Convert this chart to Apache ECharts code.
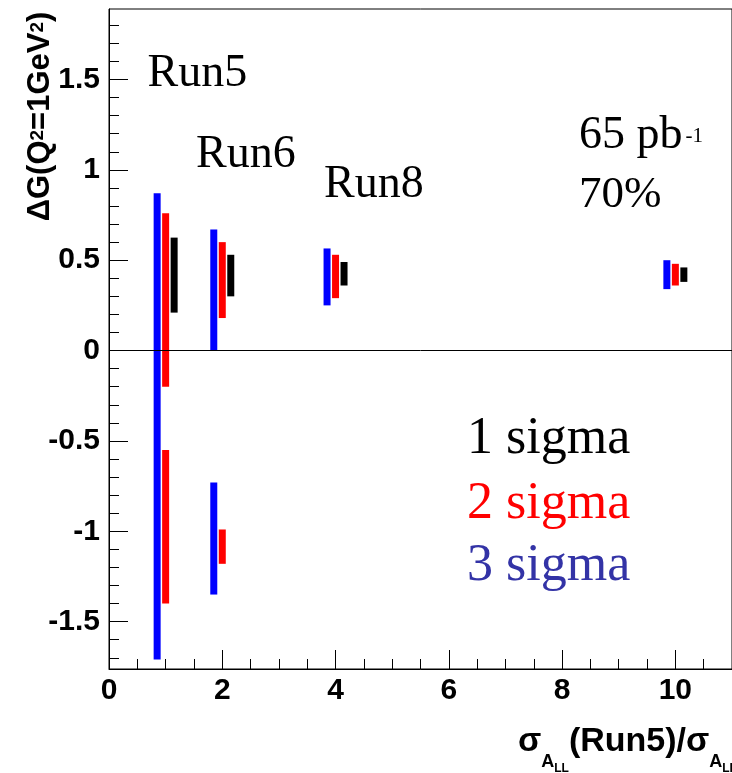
<!DOCTYPE html>
<html>
<head>
<meta charset="utf-8">
<script src="https://cdn.jsdelivr.net/npm/echarts@6/dist/echarts.min.js"></script>
<style>
html,body{margin:0;padding:0;background:#fff;}
#chart{width:732px;height:773px;}
</style>
</head>
<body>
<div id="chart"></div>
<script>
// x position, lower edge, upper edge of each allowed ΔG interval
const sigma3Blue = [[0.85, -1.71, 0.87], [1.85, 0.0, 0.67], [1.85, -1.35, -0.73], [3.85, 0.25, 0.565], [9.85, 0.34, 0.50]];
const sigma2Red = [[1.0, -0.20, 0.76], [1.0, -1.40, -0.55], [2.0, 0.18, 0.60], [2.0, -1.18, -0.99], [4.0, 0.29, 0.53], [10.0, 0.36, 0.48]];
const sigma1Black = [[1.15, 0.21, 0.625], [2.15, 0.30, 0.53], [4.15, 0.36, 0.49], [10.15, 0.38, 0.46]];
const xRange = [0, 11];
const yRange = [-1.762, 1.89];
const yMajorTicks = [-1.5, -1, -0.5, 0, 0.5, 1, 1.5];
const yMinorTicks = [-1.7, -1.6, -1.4, -1.3, -1.2, -1.1, -0.9, -0.8, -0.7, -0.6, -0.4, -0.3, -0.2, -0.1,
                     0.1, 0.2, 0.3, 0.4, 0.6, 0.7, 0.8, 0.9, 1.1, 1.2, 1.3, 1.4, 1.6, 1.7, 1.8];
const runLabels = ['Run5', 'Run6', 'Run8'];
const sigmaLabels = ['1 sigma', '2 sigma', '3 sigma'];

const SANS = 'Liberation Sans, Arial, sans-serif';
const SERIF = 'Liberation Serif, Times New Roman, serif';

function barSeries(name, data, color) {
  return {
    type: 'custom', name: name, data: data,
    xAxisIndex: 0, yAxisIndex: 0,
    encode: {x: 0, y: [1, 2]},
    renderItem: function (params, api) {
      const p1 = api.coord([api.value(0), api.value(1)]);
      const p2 = api.coord([api.value(0), api.value(2)]);
      return {type: 'line', shape: {x1: p1[0], y1: p1[1], x2: p2[0], y2: p2[1]},
        style: {stroke: color, lineWidth: 7, lineCap: 'butt'}};
    }
  };
}

const chart = echarts.init(document.getElementById('chart'), null, {renderer: 'canvas'});
const axisLineStyle = {show: true, onZero: false, lineStyle: {color: '#000', width: 1}};
const option = {
  animation: false,
  backgroundColor: '#fff',
  grid: {left: 109, top: 9, width: 628.65, height: 660, show: true, borderColor: '#000', borderWidth: 1, backgroundColor: 'transparent'},
  xAxis: [
    {type: 'value', min: xRange[0], max: xRange[1], interval: 2, position: 'bottom',
     axisLine: axisLineStyle, splitLine: {show: false},
     axisTick: {show: true, inside: true, length: 19, lineStyle: {color: '#000', width: 1}},
     axisLabel: {show: true, margin: 7, showMaxLabel: false, fontSize: 30, fontWeight: 'bold', fontFamily: SANS, color: '#000'}},
    {type: 'value', min: xRange[0], max: xRange[1], interval: 0.5, position: 'bottom',
     axisLine: {show: false, onZero: false}, splitLine: {show: false},
     axisTick: {show: true, inside: true, length: 10, lineStyle: {color: '#000', width: 1}},
     axisLabel: {show: false}}
  ],
  yAxis: [
    {type: 'value', min: yRange[0], max: yRange[1], position: 'left',
     axisLine: axisLineStyle, splitLine: {show: false},
     axisTick: {show: true, inside: true, length: 19, customValues: yMajorTicks, lineStyle: {color: '#000', width: 1}},
     axisLabel: {show: true, margin: 9, customValues: yMajorTicks, fontSize: 30, fontWeight: 'bold', fontFamily: SANS, color: '#000'}},
    {type: 'value', min: yRange[0], max: yRange[1], position: 'left',
     axisLine: {show: false, onZero: false}, splitLine: {show: false},
     axisTick: {show: true, inside: true, length: 10, customValues: yMinorTicks, lineStyle: {color: '#000', width: 1}},
     axisLabel: {show: false}}
  ],
  series: [
    Object.assign(barSeries('3 sigma', sigma3Blue, '#0000ff'), {
      markLine: {silent: true, symbol: 'none', label: {show: false},
        lineStyle: {color: '#000', width: 1, type: 'solid'}, data: [{yAxis: 0}]}
    }),
    barSeries('2 sigma', sigma2Red, '#ff0000'),
    barSeries('1 sigma', sigma1Black, '#000000')
  ],
  graphic: [
    {type: 'text', x: 147.5, y: 74, style: {legacy: false, text: runLabels[0], fontSize: 46, fontFamily: SERIF, fill: '#000', align: 'left', verticalAlign: 'middle'}},
    {type: 'text', x: 196, y: 155, style: {legacy: false, text: runLabels[1], fontSize: 46, fontFamily: SERIF, fill: '#000', align: 'left', verticalAlign: 'middle'}},
    {type: 'text', x: 324, y: 185, style: {legacy: false, text: runLabels[2], fontSize: 46, fontFamily: SERIF, fill: '#000', align: 'left', verticalAlign: 'middle'}},
    {type: 'text', x: 579, y: 113, style: {legacy: false, text: '{a|65 pb}{b|-1}', align: 'left', verticalAlign: 'top',
      rich: {a: {fontSize: 46, fontFamily: SERIF, fill: '#000', lineHeight: 50, verticalAlign: 'top'},
             b: {fontSize: 21, fontFamily: SERIF, fill: '#000', lineHeight: 21, verticalAlign: 'top', padding: [13, 0, 0, 3]}}}},
    {type: 'text', x: 579, y: 195, style: {legacy: false, text: '70%', fontSize: 45, fontFamily: SERIF, fill: '#000', align: 'left', verticalAlign: 'middle'}},
    {type: 'text', x: 467, y: 439, style: {legacy: false, text: sigmaLabels[0], fontSize: 52, fontFamily: SERIF, fill: '#000', align: 'left', verticalAlign: 'middle'}},
    {type: 'text', x: 467, y: 504, style: {legacy: false, text: sigmaLabels[1], fontSize: 52, fontFamily: SERIF, fill: '#ff0000', align: 'left', verticalAlign: 'middle'}},
    {type: 'text', x: 467, y: 566, style: {legacy: false, text: sigmaLabels[2], fontSize: 52, fontFamily: SERIF, fill: '#3333a6', align: 'left', verticalAlign: 'middle'}},
    {type: 'text', x: 42.8, y: 116.5, rotation: Math.PI / 2,
     style: {legacy: false, text: '{m|ΔG(Q}{p|2}{m|=1GeV}{p|2}{m|)}', align: 'center', verticalAlign: 'middle',
      rich: {m: {fontSize: 31, fontWeight: 'bold', fontFamily: SANS, fill: '#000', lineHeight: 36, verticalAlign: 'top'},
             p: {fontSize: 19, fontWeight: 'bold', fontFamily: SANS, fill: '#000', lineHeight: 19, verticalAlign: 'top', padding: [3, 0, 0, 0]}}}},
    {type: 'text', x: 518, y: 725,
     style: {legacy: false, text: '{m|σ}{s|A}{ss|LL}{m|(Run5)/σ}{s|A}{ss|LL}', align: 'left', verticalAlign: 'top',
      rich: {m: {fontSize: 34, fontWeight: 'bold', fontFamily: SANS, fill: '#000', lineHeight: 40, verticalAlign: 'top'},
             s: {fontSize: 18, fontWeight: 'bold', fontFamily: SANS, fill: '#000', lineHeight: 18, verticalAlign: 'top', padding: [28, 0, 0, 0]},
             ss: {fontSize: 12, fontWeight: 'bold', fontFamily: SANS, fill: '#000', lineHeight: 12, verticalAlign: 'top', padding: [38, 0, 0, 0]}}}}
  ]
};
chart.setOption(option);
</script>
</body>
</html>
